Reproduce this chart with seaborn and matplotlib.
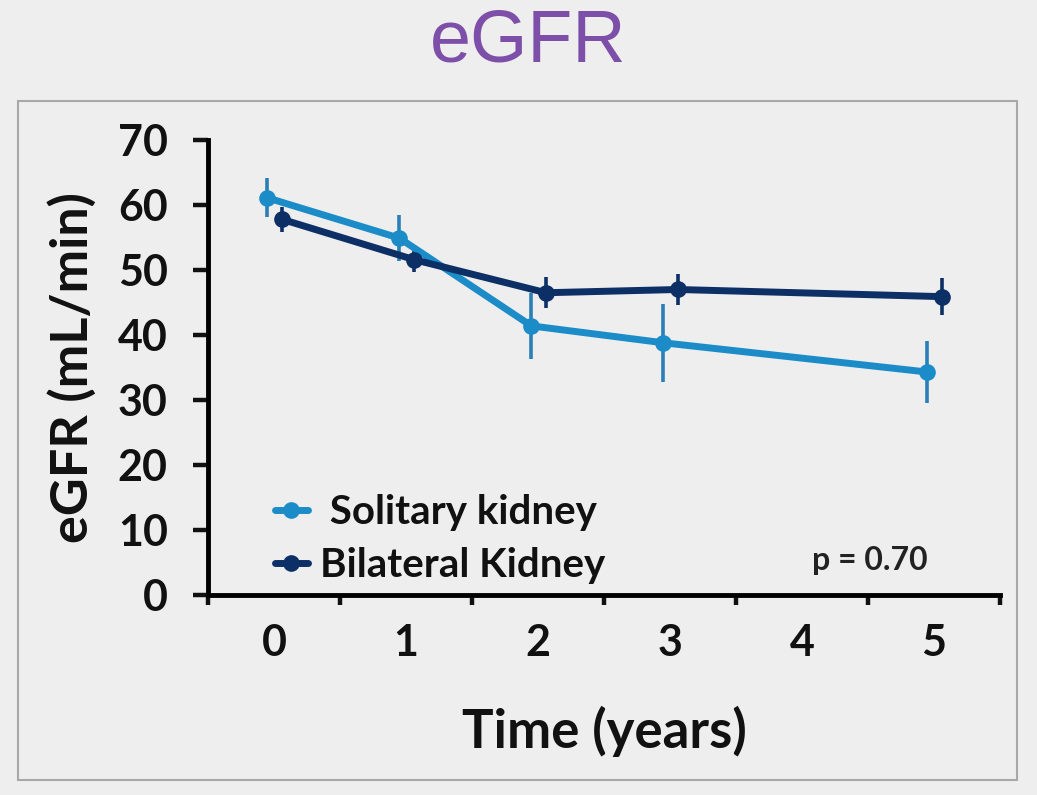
import pandas as pd
import numpy as np
import matplotlib.pyplot as plt
import matplotlib.patches as mpatches
import seaborn as sns

# ==========================================
# 数据
# ==========================================
years = [0, 1, 2, 3, 5]
solitary_mean = [61.1, 54.9, 41.4, 38.8, 34.3]
solitary_err = [3.0, 3.5, 5.1, 6.0, 4.7]
bilateral_mean = [57.8, 51.6, 46.5, 47.0, 45.9]
bilateral_err = [1.9, 1.9, 2.4, 2.4, 2.8]
groups = [' Solitary kidney', 'Bilateral Kidney']

COLORS = {groups[0]: '#1b8cc8', groups[1]: '#0c2f66'}
ERR_COLORS = {groups[0]: '#2a80b6', groups[1]: '#0c2f66'}
DODGE = {groups[0]: -0.05, groups[1]: 0.06}
BG = '#eeeeee'
INK = '#111111'


def main():
    df = pd.concat([
        pd.DataFrame({'year': years, 'egfr': solitary_mean, 'err': solitary_err, 'group': groups[0]}),
        pd.DataFrame({'year': years, 'egfr': bilateral_mean, 'err': bilateral_err, 'group': groups[1]}),
    ], ignore_index=True)
    df['x'] = df['year'] + df['group'].map(DODGE)

    sns.set_style('white')
    plt.rcParams['font.family'] = ['Lato', 'DejaVu Sans']
    plt.rcParams.update({'text.color': INK, 'axes.labelcolor': INK,
                         'xtick.color': INK, 'ytick.color': INK})

    fig = plt.figure(figsize=(10.37, 7.95), dpi=100, facecolor=BG)
    ax = fig.add_axes([0.2006, 0.2516, 0.7637, 0.5723])
    ax.set_facecolor(BG)

    # 外框
    fig.patches.append(mpatches.Rectangle((18 / 1037, 1 - 780 / 795), 999 / 1037, 679 / 795,
                                          transform=fig.transFigure, fill=False,
                                          edgecolor='#a8a8a8', linewidth=1.5))

    # 误差线
    for g in groups:
        sub = df[df['group'] == g]
        ax.errorbar(sub['x'], sub['egfr'], yerr=sub['err'], fmt='none',
                    ecolor=ERR_COLORS[g], elinewidth=2.6, capsize=0, zorder=2)

    sns.lineplot(data=df, x='x', y='egfr', hue='group', hue_order=groups,
                 palette=COLORS, marker='o', markersize=12, markeredgewidth=0,
                 linewidth=5, ax=ax, zorder=3)

    ax.set_xlim(-0.5, 5.5)
    ax.set_ylim(0, 70)
    ax.set_yticks(range(0, 71, 10))
    ax.set_xticks(np.arange(-0.5, 5.6, 1), minor=False)
    ax.set_xticklabels([])
    ax.set_xticks(range(0, 6), minor=True)
    ax.set_xticklabels([str(i) for i in range(6)], minor=True)

    for s in ['top', 'right']:
        ax.spines[s].set_visible(False)
    for s in ['left', 'bottom']:
        ax.spines[s].set_linewidth(3.5)
        ax.spines[s].set_color('black')

    ax.tick_params(axis='y', which='major', direction='out', length=11, width=3.2,
                   labelsize=31, pad=18, left=True)
    ax.tick_params(axis='x', which='major', direction='out', length=7, width=3.2, bottom=True)
    ax.tick_params(axis='x', which='minor', length=0, labelsize=31, pad=20)
    for lab in ax.get_yticklabels() + ax.get_xticklabels(minor=True):
        lab.set_fontweight('bold')

    ax.set_xlabel('Time (years)', fontsize=38, fontweight='bold', labelpad=31)
    ax.set_ylabel('eGFR (mL/min)', fontsize=37.5, fontweight='bold', labelpad=15)

    leg = ax.legend(loc='lower left', bbox_to_anchor=(0.085, 0.025), frameon=False,
                    fontsize=29, handlelength=0.8, handletextpad=0.3, labelspacing=0.38,
                    borderaxespad=0, borderpad=0)
    for t in leg.get_texts():
        t.set_fontweight('bold')
        t.set_color(INK)
    for h in leg.get_lines():
        h.set_linewidth(5)

    ax.text(4.95, 5.3, 'p = 0.70', fontsize=23, fontweight='bold', ha='right',
            va='center', color='#222222')

    fig.text(0.509, 0.947, 'eGFR', fontsize=53, color='#7d4fa8', ha='center', va='center',
             family=['Liberation Sans', 'DejaVu Sans'])

    plt.savefig('out.png', dpi=100, facecolor=BG)
    plt.close()


if __name__ == "__main__":
    main()
